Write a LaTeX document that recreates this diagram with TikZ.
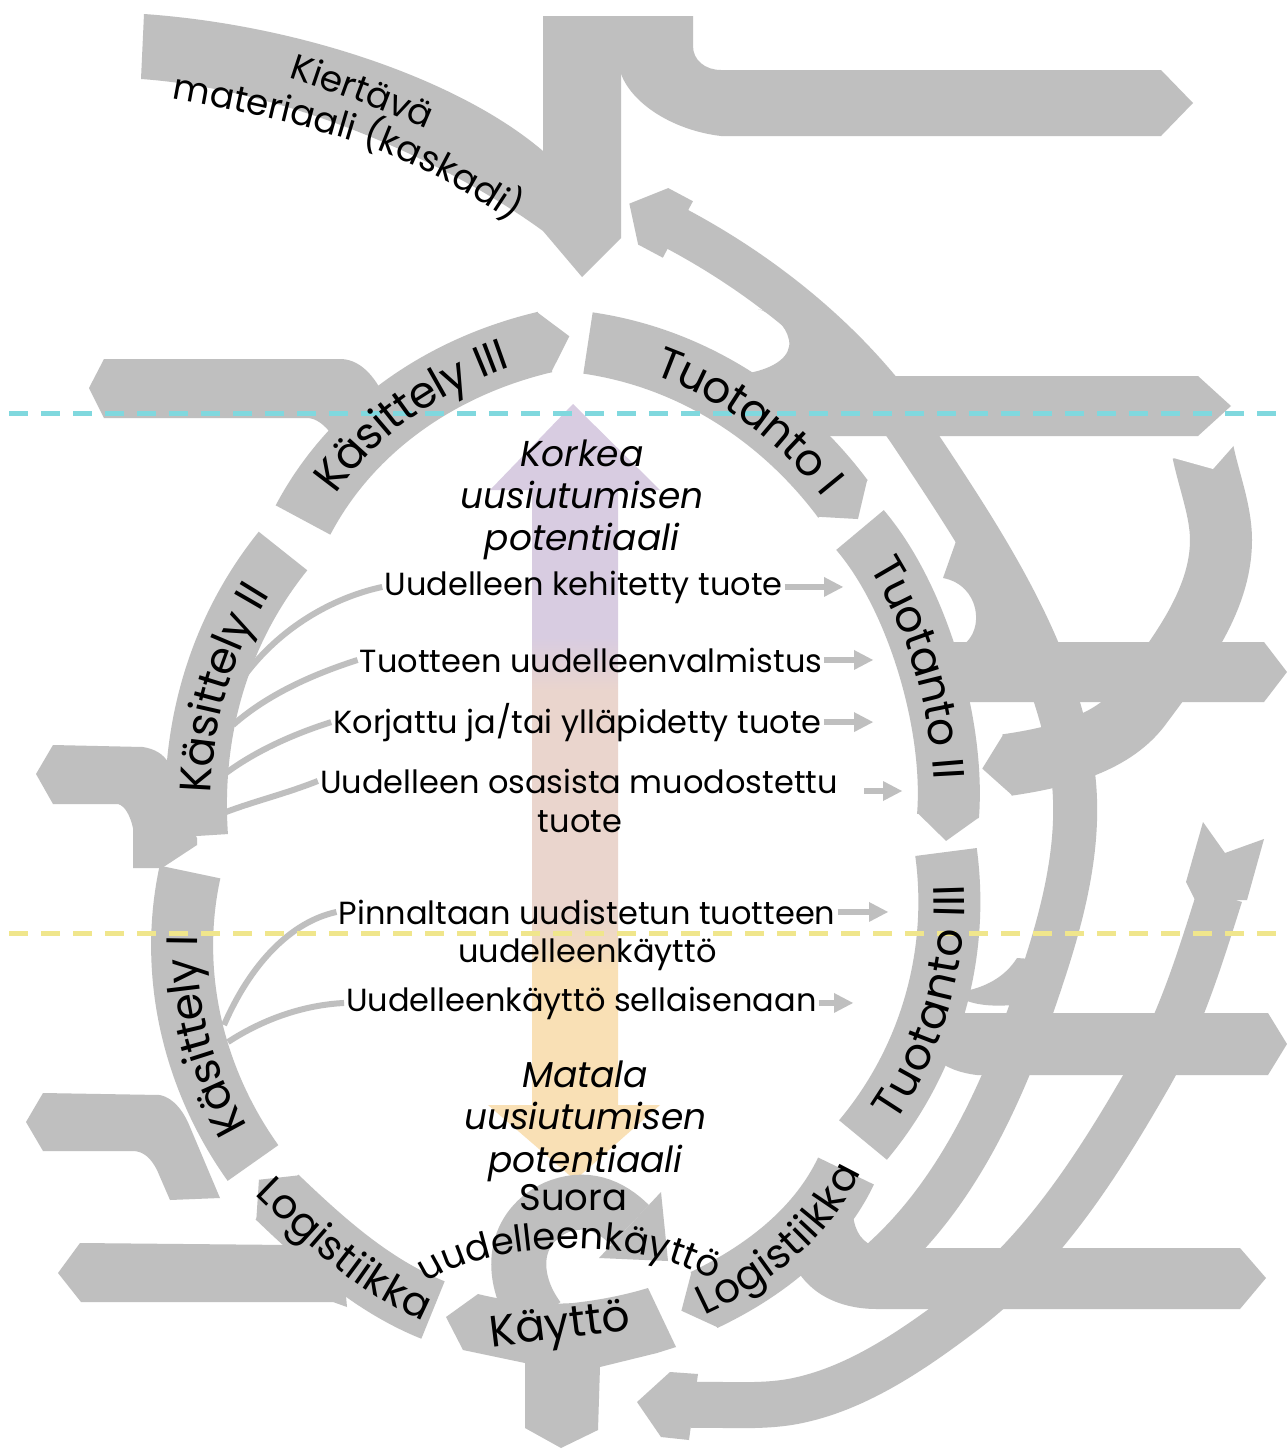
\documentclass[tikz,border=0pt]{standalone}
\usepackage{fontspec}
\setmainfont{Poppins}
\usetikzlibrary{decorations.text,decorations.markings}
\definecolor{bandgray}{RGB}{191,191,191}
\definecolor{cyanline}{RGB}{128,216,222}
\definecolor{yelline}{RGB}{240,230,140}
\definecolor{purp}{RGB}{216,204,225}
\definecolor{pinkm}{RGB}{234,213,205}
\definecolor{orng}{RGB}{249,224,181}
\pgfdeclareverticalshading{potgrad}{100bp}{color(0bp)=(orng); color(38.5bp)=(orng); color(42bp)=(pinkm); color(56.5bp)=(pinkm); color(60bp)=(purp); color(100bp)=(purp)}
\newcommand\ringf{\fontsize{44}{50}\selectfont}
\newcommand\logf{\fontsize{41}{48}\selectfont}
\newcommand\bodyf{\fontsize{32}{38}\selectfont}
\newcommand\itf{\fontsize{36}{42}\selectfont\itshape}
\newcommand\loopf{\fontsize{37}{42}\selectfont}
\newcommand\kierf{\fontsize{36}{40}\selectfont}
\begin{document}
\begin{tikzpicture}[x=1pt,y=-1pt,
  band/.style={draw=bandgray, line width=62pt},
  rband/.style={draw=bandgray, line width=44pt},
  chev/.style={postaction={decorate, decoration={markings, mark=at position 1 with {\fill[bandgray] (-1,31) -- (25,0) -- (-1,-31) -- cycle;}}}},
  starthead/.style={postaction={decorate, decoration={markings, mark=at position 0 with {\fill[bandgray] (1,32) -- (-27,32) -- (-54,0) -- (-27,-32) -- (1,-32) -- cycle;}}}},
  conn/.style={draw=bandgray, line width=6pt},
  sarrow/.style={conn, postaction={decorate, decoration={markings, mark=at position 1 with {\fill[bandgray] (-1,10) -- (18,0) -- (-1,-10) -- cycle;}}}},
  lbl/.style={font=\bodyf, inner sep=2pt, anchor=base},
  ilbl/.style={font=\itf, inner sep=2pt, anchor=base},
  onring/.style={decorate, decoration={text along path, text={|\ringf|#1}, text align=center, raise=-15pt}},
  onlog/.style={decorate, decoration={text along path, text={|\logf|#1}, text align=center, raise=-14pt}},
]
\useasboundingbox (0,0) rectangle (1287,1449);
\fill[white] (0,0) rectangle (1287,1449);

% gradient arrow
\shade[shading=potgrad]
  (573,404) -- (660,490) -- (618,490) -- (618,1105) -- (660,1105) -- (575,1180)
  -- (488,1105) -- (532,1105) -- (532,490) -- (490,490) -- cycle;

% body texts
\node[ilbl] (hi1) at (582,466) {Korkea};
\node[ilbl] (hi2) at (582,508) {uusiutumisen};
\node[ilbl] (hi3) at (582,550) {potentiaali};
\node[lbl] (t1) at (583.5,595) {Uudelleen kehitetty tuote};
\node[lbl] (t2) at (591,672) {Tuotteen uudelleenvalmistus};
\node[lbl] (t3) at (577.5,733) {Korjattu ja/tai ylläpidetty tuote};
\node[lbl] (t4) at (579,793) {Uudelleen osasista muodostettu};
\node[lbl] (t4b) at (580,832) {tuote};
\node[lbl] (t5) at (587,924) {Pinnaltaan uudistetun tuotteen};
\node[lbl] (t5b) at (587.5,962) {uudelleenkäyttö};
\node[lbl] (t6) at (581.5,1011) {Uudelleenkäyttö sellaisenaan};
\node[ilbl] (lo1) at (585,1087) {Matala};
\node[ilbl] (lo2) at (585.5,1129) {uusiutumisen};
\node[ilbl] (lo3) at (585.5,1172) {potentiaali};

% connectors
\coordinate (k2a) at (245,675);
\coordinate (k2b) at (233,725);
\coordinate (k2c) at (226,773);
\coordinate (k2d) at (226,812);
\coordinate (k1a) at (224,1025);
\coordinate (k1b) at (228,1042);
\draw[conn] (k2a) .. controls (285,622) and (340,596) .. (t1.west);
\draw[conn] (k2b) .. controls (270,692) and (320,672) .. (t2.west);
\draw[conn] (k2c) .. controls (260,748) and (300,732) .. (t3.west);
\draw[conn] (k2d) .. controls (255,801) and (285,794) .. (t4.west);
\draw[conn] (k1a) .. controls (250,965) and (290,922) .. (t5.west);
\draw[conn] (k1b) .. controls (265,1018) and (305,1005) .. (t6.west);
\coordinate (e1) at (825,588);
\coordinate (e2) at (855,668);
\coordinate (e3) at (855,728);
\coordinate (e4s) at (864,791);
\coordinate (e4) at (884,791);
\coordinate (e5) at (870,917);
\coordinate (e6) at (835,1007);
\draw[sarrow] (t1.east) -- (t1.east -| e1);
\draw[sarrow] (t2.east) -- (t2.east -| e2);
\draw[sarrow] (t3.east) -- (t3.east -| e3);
\draw[sarrow] (e4s) -- (e4);
\draw[sarrow] (t5.east) -- (t5.east -| e5);
\draw[sarrow] (t6.east) -- (t6.east -| e6);

% ---- gray shapes ----
% Kiertava band
\fill[bandgray] (144,14) .. controls (300,25) and (460,80) .. (543,151) -- (543,16) -- (621,16)
  -- (621,238) -- (582,277) -- (543,231) .. controls (460,170) and (297,90) .. (141,79) -- cycle;
% top right L arrow
\fill[bandgray] (619,16) -- (693,16) -- (693,46) .. controls (693,60) and (705,70) .. (721,70)
  -- (1161,70) -- (1193,103) -- (1161,136) -- (721,136) .. controls (670,130) and (626,100) .. (619,67) -- cycle;
% left arrows
\fill[bandgray] (89,388) -- (104,359) -- (340,359) .. controls (358,359) and (372,373) .. (382,392)
  -- (400,430) -- (345,452) -- (332,435) .. controls (325,425) and (316,418) .. (307,418) -- (104,418) -- cycle;
\fill[bandgray] (36,774) -- (53,745) -- (143,747) .. controls (155,749) and (163,754) .. (168,762)
  -- (175,800) -- (197,838) -- (197,845) -- (162,868) -- (133,868) -- (133,828)
  .. controls (130,815) and (125,806) .. (118,804) -- (53,804) -- cycle;
\fill[bandgray] (26,1122) -- (43,1093) -- (160,1095) .. controls (174,1098) and (184,1112) .. (190,1127)
  -- (220,1198) -- (170,1200) -- (157,1170) .. controls (151,1158) and (143,1151) .. (133,1151) -- (43,1151) -- cycle;
\fill[bandgray] (58,1273) -- (80,1243) -- (290,1245) -- (345,1285) -- (347,1307) -- (333,1302) -- (81,1302) -- cycle;
% right horizontal arrows
\fill[bandgray] (800,376) -- (1198,376) -- (1231,406) -- (1198,436) -- (800,436) -- cycle;
\fill[bandgray] (945,642) -- (1264,642) -- (1287,672) -- (1264,702) -- (945,702) -- cycle;
\fill[bandgray] (930,1013) -- (1268,1013) -- (1287,1044) -- (1268,1075) -- (977,1075)
  .. controls (960,1073) and (948,1068) .. (940,1062) -- cycle;
\fill[bandgray] (853,1215) .. controls (855,1232) and (862,1243) .. (878,1248) -- (1240,1248) -- (1266,1278)
  -- (1240,1309) -- (877,1309) .. controls (835,1309) and (805,1290) .. (793,1262) -- (820,1225) -- cycle;
% bumps joining the ring to the outer arc
\fill[bandgray] (749,373) .. controls (775,368) and (792,356) .. (789,340) .. controls (786,325) and (772,313) .. (758,309)
  -- (830,330) -- (860,400) -- (790,425) -- cycle;
\fill[bandgray] (943,578) -- (960,530) -- (1010,560) -- (1010,645) -- (963,645) .. controls (985,630) and (980,585) .. (943,578) -- cycle;
\fill[bandgray] (960,992) .. controls (985,988) and (1005,977) .. (1017,958) -- (1045,960) -- (1040,1004)
  -- (1013,1005) .. controls (988,1007) and (972,1004) .. (960,998) -- cycle;
% outer arcs
\draw[rband, starthead] (677,229) .. controls (769,278) and (855,349) .. (913,436)
  .. controls (980,537) and (1054,646) .. (1072,767) .. controls (1082,832) and (1067,899) .. (1047,962)
  .. controls (1012,1071) and (966,1186) .. (880,1262);
\draw[band, chev] (1203,452) .. controls (1209,481) and (1221,511) .. (1221,540)
  .. controls (1221,602) and (1177,657) .. (1140,707) .. controls (1111,745) and (1055,758) .. (1007,765);
\fill[white] (1170,457) -- (1213,469) -- (1236,443) -- cycle;
\fill[bandgray] (1186,882) -- (1203,822) -- (1225,853) -- (1264,839) -- (1247,900) -- (1195,900) -- cycle;
\draw[draw=bandgray, line width=46pt] (1220,895) .. controls (1200,958) and (1181,1021) .. (1148,1078)
  .. controls (1098,1165) and (1042,1253) .. (962,1313) .. controls (913,1350) and (859,1387) .. (800,1400)
  .. controls (765,1408) and (727,1404) .. (690,1405);
\fill[bandgray] (698,1374) -- (670,1372) -- (637,1402) -- (661,1437) -- (689,1440) -- cycle;
% ring segments
\draw[band, chev] (303,520) .. controls (352,427) and (443,366) .. (545,342);
\draw[band, chev] (588,343) .. controls (691,358) and (781,416) .. (843,499);
\draw[band, chev] (860,530) .. controls (918,598) and (955,726) .. (948,816);
\draw[band, chev] (946,852) .. controls (960,955) and (930,1060) .. (863,1140);
\draw[band, chev] (846,1171) .. controls (818,1230) and (763,1272) .. (704,1300);
\draw[band, chev] (433,1310) .. controls (373,1286) and (324,1242) .. (277,1197);
\draw[band, postaction={decorate, decoration={markings, mark=at position 1 with {\fill[bandgray] (-1,31) -- (28,0) -- (-1,-31) -- cycle;}}}]
  (253,1163) .. controls (193,1079) and (168,973) .. (190,872);
\draw[band, chev] (197,836) .. controls (190,734) and (217,633) .. (283,551);
% Kaytto
\fill[bandgray] (446,1317) -- (478,1294) .. controls (510,1302) and (545,1305) .. (573,1303)
  .. controls (600,1300) and (625,1295) .. (648,1288) -- (676,1347) -- (657,1353) -- (600,1367)
  -- (598,1430) -- (561,1448) -- (525,1428) -- (525,1363) -- (463,1350) -- cycle;
\draw[draw=bandgray, line width=55pt] (538,1318) .. controls (510,1280) and (510,1230) .. (555,1208)
  .. controls (585,1195) and (610,1205) .. (630,1225);
\fill[bandgray] (661,1192) -- (668,1261) -- (599,1258) -- cycle;

% dashed lines
\draw[cyanline, line width=5pt, dash pattern=on 19pt off 13pt] (9,413) -- (1287,413);
\draw[yelline, line width=5pt, dash pattern=on 19pt off 13pt] (9,933) -- (1287,933);

% ring labels
\path[onring={Käsittely III}] (284,556) -- (303,520) .. controls (352,427) and (443,366) .. (545,342) -- (584,333);
\path[decorate, decoration={text along path, text={|\ringf|Tuotanto I}, text align={center, left indent=60pt}, raise=-15pt}]
  (548,337) -- (588,343) .. controls (691,358) and (781,416) .. (843,499) -- (867,531);
\path[onring={Tuotanto II}] (834,500) -- (860,530) .. controls (918,598) and (955,726) .. (948,816) -- (945,856);
\path[onring={Tuotanto III}] (837,1171) -- (863,1140) .. controls (930,1060) and (960,955) .. (946,852) -- (941,812);
\path[onlog={Logistiikka}] (668,1317) -- (704,1300) .. controls (763,1272) and (818,1230) .. (846,1171) -- (863,1135);
\path[onlog={Logistiikka}] (248,1169) -- (277,1197) .. controls (324,1242) and (373,1286) .. (433,1310) -- (450,1317);
\path[decorate, decoration={text along path, text={|\ringf|Käsittely I}, text align={center, right indent=30pt}, raise=-15pt}]
  (276,1195) -- (253,1163) .. controls (193,1079) and (168,973) .. (190,872) -- (198,833);
\path[onring={Käsittely II}] (200,876) -- (197,836) .. controls (190,734) and (217,633) .. (283,551) -- (308,520);
\node[font=\ringf, rotate=7] (kaytto) at (560,1328) {Käyttö};
% Kiertava labels
\path[decorate, decoration={text along path, text={|\kierf|Kiertävä}, text align=center}]
  (200,52) .. controls (255,66) and (305,82) .. (357,101) .. controls (410,121) and (460,142) .. (510,170);
\path[decorate, decoration={text along path, text={|\kierf|materiaali (kaskadi)}, text align=center}]
  (150,95) .. controls (250,112) and (300,125) .. (350,140) .. controls (410,160) and (470,190) .. (530,235);
% loop labels
\node[font=\loopf, inner sep=2pt, anchor=base] (suora) at (573.5,1210) {Suora};
\path[decorate, decoration={text along path, text={|\loopf|uudelleenkäyttö}, text align=center}]
  (420,1288) .. controls (480,1240) and (640,1232) .. (720,1285);
\end{tikzpicture}
\end{document}
